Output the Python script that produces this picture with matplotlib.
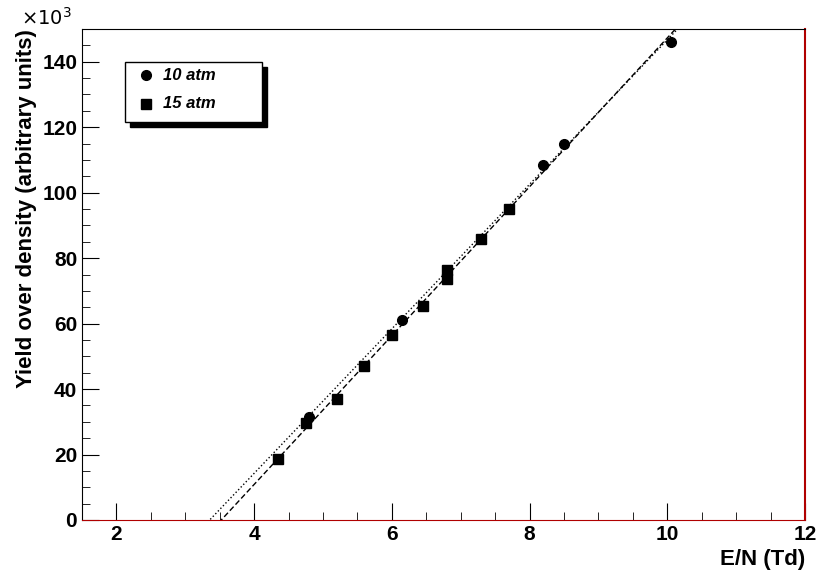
import numpy as np
import matplotlib
matplotlib.use("Agg")
import matplotlib.pyplot as plt
from matplotlib.patches import Rectangle
from matplotlib.ticker import MultipleLocator

x10 = [4.8, 6.15, 8.2, 8.5, 10.05]
y10 = [31.5, 61.0, 108.5, 115.0, 146.0]
x15 = [4.35, 4.75, 5.2, 5.6, 6.0, 6.45, 6.8, 6.8, 7.3, 7.7]
y15 = [18.5, 29.5, 37.0, 47.0, 56.5, 65.5, 73.5, 76.5, 86.0, 95.0]

plt.rcParams['font.family'] = ['Liberation Sans', 'DejaVu Sans']
fig = plt.figure(figsize=(8.22, 5.77), dpi=100)
ax = fig.add_axes([0.0998, 0.0988, 0.8795, 0.8509])
ax.set_xlim(1.5, 12)
ax.set_ylim(0, 150)

xs = np.array([1.5, 12])
p10 = np.polyfit(x10, y10, 1)
p15 = np.polyfit(x15, y15, 1)
ax.plot(xs, np.polyval(p10, xs), ':', color='black', lw=1)
ax.plot(xs, np.polyval(p15, xs), '--', color='black', lw=1, dashes=(4, 2))

ax.plot(x10, y10, 'o', color='black', ms=7, label='10 atm')
ax.plot(x15, y15, 's', color='black', ms=7, label='15 atm')

ax.xaxis.set_major_locator(MultipleLocator(2))
ax.xaxis.set_minor_locator(MultipleLocator(0.5))
ax.yaxis.set_major_locator(MultipleLocator(20))
ax.yaxis.set_minor_locator(MultipleLocator(5))
ax.tick_params(which='both', direction='in', top=False, right=False, labelsize=15)
ax.tick_params(which='major', length=12)
ax.tick_params(which='minor', length=6)
for l in ax.get_xticklabels() + ax.get_yticklabels():
    l.set_fontweight('bold')
ax.spines['right'].set_color('#b00000')
ax.spines['right'].set_linewidth(1.5)
ax.spines['bottom'].set_color('#b00000')

ax.set_xlabel('E/N (Td)', fontsize=16, fontweight='bold', loc='right')
ax.set_ylabel('Yield over density (arbitrary units)', fontsize=16, fontweight='bold', loc='top')
ax.text(-0.085, 1.0, r'$\times10^{3}$', transform=ax.transAxes, fontsize=14, ha='left', va='bottom')

# legend with shadow
fx0, fy0, fw, fh = 125/822, 1-122/577, 137/822, 60/577
fig.patches.append(Rectangle((fx0+5/822, fy0-5/577), fw, fh, transform=fig.transFigure, color='black', zorder=5))
fig.patches.append(Rectangle((fx0, fy0), fw, fh, transform=fig.transFigure, facecolor='white', edgecolor='black', lw=1, zorder=6))
fig.lines.append(plt.Line2D([146/822], [1-75/577], marker='o', color='black', ms=7, transform=fig.transFigure, zorder=7))
fig.lines.append(plt.Line2D([146/822], [1-104/577], marker='s', color='black', ms=7, transform=fig.transFigure, zorder=7))
fig.text(163/822, 1-75/577, '10 atm', fontsize=12, fontweight='bold', style='italic', va='center', zorder=7)
fig.text(163/822, 1-104/577, '15 atm', fontsize=12, fontweight='bold', style='italic', va='center', zorder=7)

fig.savefig('out.png', dpi=100)
